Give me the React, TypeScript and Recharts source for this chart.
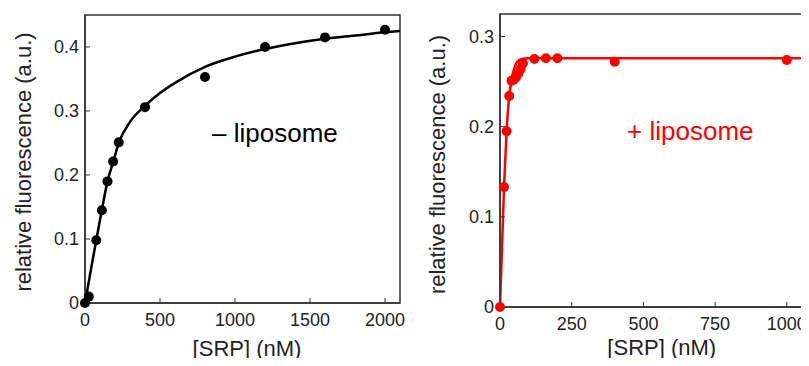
import {
  ComposedChart,
  Line,
  Scatter,
  XAxis,
  YAxis,
  ReferenceArea,
  ReferenceDot,
} from "recharts";

// – liposome (black panel)
const minusConc = [0, 25, 75, 112.5, 150, 187.5, 225, 400, 800, 1200, 1600, 2000];
const minusSignal = [0, 0.01, 0.098, 0.145, 0.19, 0.221, 0.251, 0.306, 0.353, 0.4, 0.415, 0.427];
const minusFitConc = [0, 25, 50, 75, 112, 150, 190, 225, 300, 400, 500, 600, 800, 1000, 1200, 1400, 1600, 1800, 2000, 2100];
const minusFitSignal = [0, 0.033, 0.066, 0.098, 0.145, 0.19, 0.222, 0.25, 0.283, 0.308, 0.328, 0.344, 0.369, 0.385, 0.397, 0.406, 0.413, 0.418, 0.423, 0.425];

// + liposome (red panel)
const plusConc = [0, 14, 23, 32, 40, 48, 56, 64, 72, 80, 120, 160, 200, 400, 1000];
const plusSignal = [0, 0.133, 0.195, 0.234, 0.251, 0.252, 0.255, 0.259, 0.264, 0.27, 0.275, 0.276, 0.276, 0.272, 0.274];
const plusFitConc = [0, 14, 23, 32, 40, 50, 60, 75, 100, 150, 1100];
const plusFitSignal = [0, 0.133, 0.195, 0.234, 0.252, 0.265, 0.272, 0.275, 0.276, 0.276, 0.276];
const plusLoopConc = [32, 40, 48, 56, 64, 72, 80];
const plusLoopSignal = [0.234, 0.251, 0.252, 0.255, 0.259, 0.264, 0.27];

const minusXTicks = [0, 500, 1000, 1500, 2000];
const minusYTicks = [0, 0.1, 0.2, 0.3, 0.4];
const plusXTicks = [0, 250, 500, 750, 1000];
const plusYTicks = [0, 0.1, 0.2, 0.3];

const pairs = (xs: number[], ys: number[]) => xs.map((x, i) => ({ x, y: ys[i] }));

const FONT = "'Liberation Sans', Arial, Helvetica, sans-serif";
const AXIS = "#333";
const TEXT = "#222";

type PanelProps = {
  color: string;
  points: { x: number; y: number }[];
  fit: { x: number; y: number }[];
  loop?: { x: number; y: number }[];
  xDomain: [number, number];
  yDomain: [number, number];
  xTicks: number[];
  yTicks: number[];
  note: string;
  noteAt: [number, number];
  width: number;
  height: number;
  margin: { top: number; right: number; bottom: number; left: number };
  yAxisWidth: number;
  xAxisHeight: number;
  yLabelX: number;
  yLabelDy: number;
  xLabelDx: number;
  xLabelY: number;
};

function Panel(p: PanelProps) {
  const tick = { fontSize: 18, fill: TEXT, fontFamily: FONT };
  const dot = (s: any) => <circle cx={s.cx} cy={s.cy} r={5} fill={p.color} />;
  return (
    <ComposedChart width={p.width} height={p.height} margin={p.margin}>
      <XAxis
        type="number"
        dataKey="x"
        domain={p.xDomain}
        ticks={p.xTicks}
        height={p.xAxisHeight}
        tick={tick}
        tickSize={-5}
        tickMargin={15}
        axisLine={{ stroke: AXIS, strokeWidth: 1.5 }}
        tickLine={{ stroke: AXIS }}
        label={{
          content: ({ viewBox }: any) => (
            <text
              x={viewBox.x + viewBox.width / 2 + p.xLabelDx}
              y={p.xLabelY}
              textAnchor="middle"
              dominantBaseline="central"
              fontSize={22}
              fontFamily={FONT}
              fill={TEXT}
            >
              [SRP] (nM)
            </text>
          ),
        }}
      />
      <YAxis
        type="number"
        dataKey="y"
        domain={p.yDomain}
        ticks={p.yTicks}
        width={p.yAxisWidth}
        tick={tick}
        tickSize={-5}
        tickMargin={11}
        tickFormatter={(v: number) => (v === 0 ? "0" : String(v))}
        axisLine={{ stroke: AXIS, strokeWidth: 1.5 }}
        tickLine={{ stroke: AXIS }}
        label={{
          content: ({ viewBox }: any) => {
            const cx = viewBox.x + p.yLabelX;
            const cy = viewBox.y + viewBox.height / 2 + p.yLabelDy;
            return (
              <text
                x={cx}
                y={cy}
                transform={`rotate(-90, ${cx}, ${cy})`}
                textAnchor="middle"
                dominantBaseline="central"
                fontSize={22}
                fontFamily={FONT}
                fill={TEXT}
              >
                relative fluorescence (a.u.)
              </text>
            );
          },
        }}
      />
      <ReferenceArea
        x1={p.xDomain[0]}
        x2={p.xDomain[1]}
        y1={p.yDomain[0]}
        y2={p.yDomain[1]}
        fill="none"
        stroke={AXIS}
        strokeWidth={1.5}
      />
      <Line
        data={p.fit}
        dataKey="y"
        type="monotone"
        stroke={p.color}
        strokeWidth={2.5}
        dot={false}
        isAnimationActive={false}
      />
      {p.loop && (
        <Line
          data={p.loop}
          dataKey="y"
          type="linear"
          stroke={p.color}
          strokeWidth={2}
          dot={false}
          isAnimationActive={false}
        />
      )}
      <Scatter data={p.points} dataKey="y" fill={p.color} shape={dot} isAnimationActive={false} />
      <ReferenceDot
        x={p.noteAt[0]}
        y={p.noteAt[1]}
        r={0}
        stroke="none"
        label={{
          value: p.note,
          position: "right",
          offset: 0,
          fontSize: 26,
          fontFamily: FONT,
          fill: p.color,
        }}
      />
    </ComposedChart>
  );
}

export default function App() {
  return (
    <div
      style={{
        position: "relative",
        width: 801,
        height: 358,
        marginBottom: -8,
        overflow: "hidden",
        background: "#fff",
      }}
    >
      <div style={{ position: "absolute", left: 0, top: 0 }}>
        <Panel
          color="#000"
          points={pairs(minusConc, minusSignal)}
          fit={pairs(minusFitConc, minusFitSignal)}
          xDomain={[0, 2100]}
          yDomain={[0, 0.45]}
          xTicks={minusXTicks}
          yTicks={minusYTicks}
          note="– liposome"
          noteAt={[847, 0.266]}
          width={410}
          height={358}
          margin={{ top: 7, right: 18, bottom: 0, left: 0 }}
          yAxisWidth={77}
          xAxisHeight={63}
          yLabelX={15}
          yLabelDy={3}
          xLabelDx={4.5}
          xLabelY={340}
        />
      </div>
      <div style={{ position: "absolute", left: 410, top: 0 }}>
        <Panel
          color="#ff0000"
          points={pairs(plusConc, plusSignal)}
          fit={pairs(plusFitConc, plusFitSignal)}
          loop={pairs(plusLoopConc, plusLoopSignal)}
          xDomain={[0, 1100]}
          yDomain={[0, 0.325]}
          xTicks={plusXTicks}
          yTicks={plusYTicks}
          note="+ liposome"
          noteAt={[443, 0.196]}
          width={410}
          height={358}
          margin={{ top: 6, right: 12.5, bottom: 0, left: 0 }}
          yAxisWidth={82}
          xAxisHeight={59}
          yLabelX={19}
          yLabelDy={4}
          xLabelDx={4}
          xLabelY={339}
        />
      </div>
    </div>
  );
}
